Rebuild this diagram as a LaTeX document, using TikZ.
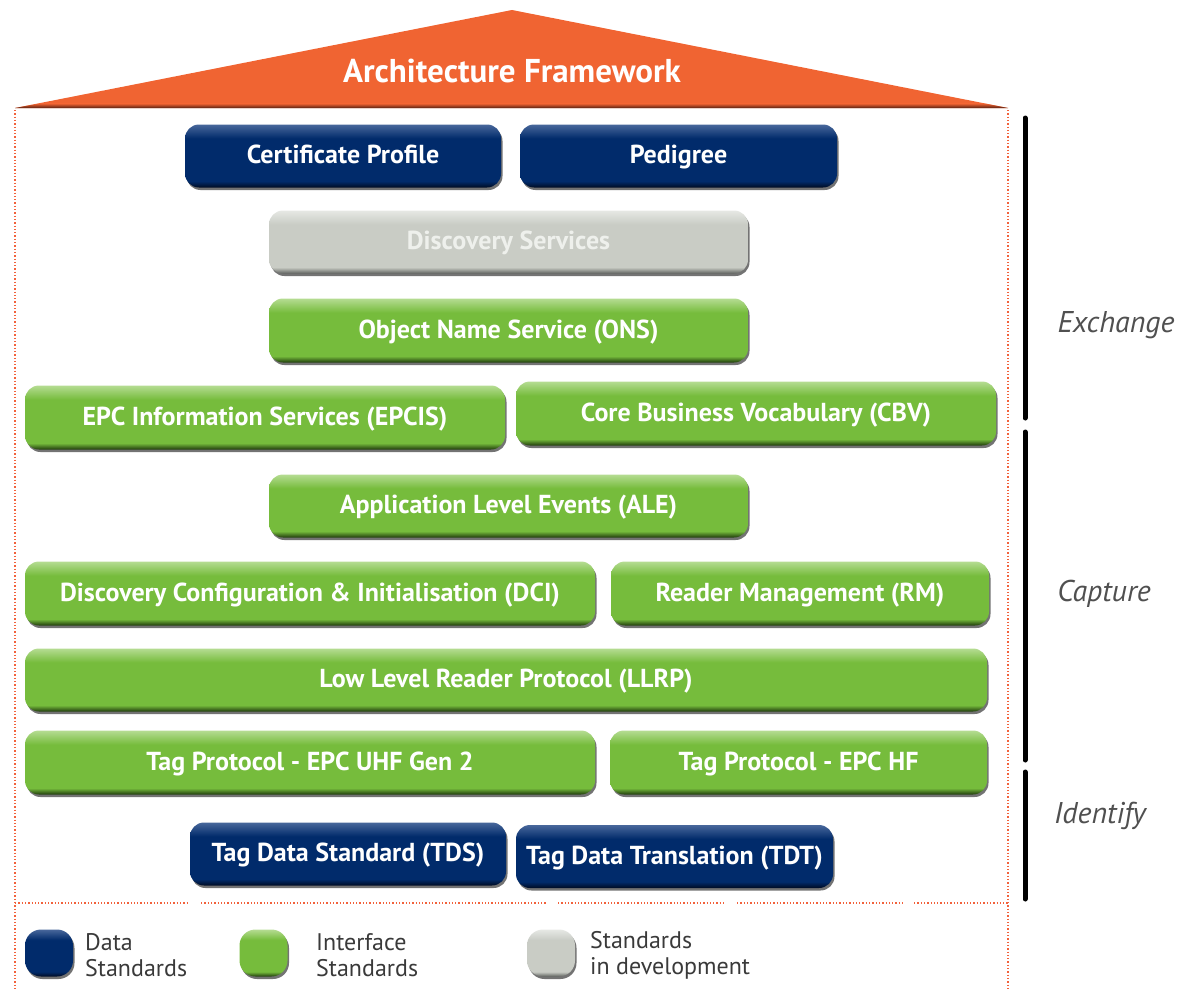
\documentclass[tikz,border=0pt]{standalone}
\usepackage{fontspec}
\setmainfont{PT Sans}
\newfontface\boxfont{PT Sans Bold}
\newfontface\titlefont{PT Sans Bold}
\newfontface\legfont{PT Sans}
\newfontface\sidefont{PT Sans Italic}
\usetikzlibrary{shadows}
\definecolor{bbase}{HTML}{012B6B}
\definecolor{bdark}{HTML}{000B22}
\definecolor{blight}{HTML}{48679B}
\definecolor{gbase}{HTML}{76BC3C}
\definecolor{gdark}{HTML}{1F3A0C}
\definecolor{glight}{HTML}{B5DC92}
\definecolor{ybase}{HTML}{C9CCC5}
\definecolor{ydark}{HTML}{5E625E}
\definecolor{ylight}{HTML}{E6E8E4}
\definecolor{roof}{HTML}{F06432}
\definecolor{roofdark}{HTML}{5A2010}
\definecolor{dots}{HTML}{F2623C}
\definecolor{ytext}{HTML}{EEF0EC}
\definecolor{legtext}{HTML}{3A3A3A}
\definecolor{sidetext}{HTML}{505050}
\pgfdeclareverticalshading{bshade}{100bp}{color(0bp)=(bdark); color(25bp)=(bdark); color(30bp)=(bbase); color(64bp)=(bbase); color(75bp)=(blight); color(100bp)=(blight)}
\pgfdeclareverticalshading{gshade}{100bp}{color(0bp)=(gdark); color(25bp)=(gdark); color(30bp)=(gbase); color(64bp)=(gbase); color(75bp)=(glight); color(100bp)=(glight)}
\pgfdeclareverticalshading{yshade}{100bp}{color(0bp)=(ydark); color(25bp)=(ydark); color(30bp)=(ybase); color(64bp)=(ybase); color(75bp)=(ylight); color(100bp)=(ylight)}
\tikzset{
  stdbox/.style={rounded corners=14pt, inner sep=0pt, shade,
    font=\boxfont\fontsize{26}{30}\selectfont, text=white,
    text height=20pt, text depth=5pt,
    drop shadow={shadow xshift=1.5pt, shadow yshift=-2.5pt, fill=black, opacity=0.55}},
  databox/.style={stdbox, shading=bshade},
  ifbox/.style={stdbox, shading=gshade},
  devbox/.style={stdbox, shading=yshade, text=ytext},
  bsize/.style 2 args={minimum width=#1pt, minimum height=#2pt},
  pill/.style={rounded corners=16pt, minimum width=48pt, minimum height=47pt, inner sep=0pt, shade,
    drop shadow={shadow xshift=1.5pt, shadow yshift=-2.5pt, fill=black, opacity=0.55}},
  legtxt/.style={anchor=west, align=left, font=\legfont\fontsize{24}{26}\selectfont, text=legtext, inner sep=0pt},
  sidetxt/.style={font=\sidefont\fontsize{30}{33}\selectfont, text=sidetext},
  dotline/.style={draw=dots, line width=1.3pt, dotted},
  bar/.style={line width=5pt, line cap=round, draw=black},
}
\begin{document}
\begin{tikzpicture}[x=1pt,y=-1pt]
\useasboundingbox (0,0) rectangle (1177,990);
% roof
\fill[roof] (15,108) -- (512,10) -- (1008,108) -- cycle;
\shade[top color=roof, bottom color=roofdark] (40,103.5) -- (984,103.5) -- (1008,108) -- (15,108) -- cycle;
\node[font=\titlefont\fontsize{33}{37}\selectfont, text=white] (title) at (512,71) {Architecture Framework};
% dotted frame
\coordinate (tl) at (15,110); \coordinate (bl) at (15,990);
\coordinate (tr) at (1008,110); \coordinate (br) at (1008,990);
\draw[dotline] (tl) -- (bl);
\draw[dotline] (tr) -- (br);
\draw[dotline] (15,903) -- (189,903);
\draw[dotline] (201,903) -- (546,903);
\draw[dotline] (558,903) -- (724,903);
\draw[dotline] (737,903) -- (903,903);
\draw[dotline] (914,903) -- (1008,903);
% boxes
\node[databox, bsize={316}{63}] (cert) at (343,156) {Certificate Profile};
\node[databox, bsize={317}{63}] (ped) at (678.5,156) {Pedigree};
\node[devbox, bsize={479}{63}] (disc) at (508.5,242) {Discovery Services};
\node[ifbox, bsize={479}{64}] (ons) at (508.5,330.5) {Object Name Service (ONS)};
\node[ifbox, bsize={480}{64}] (epcis) at (265,417.5) {EPC Information Services (EPCIS)};
\node[ifbox, bsize={480}{64}] (cbv) at (756,413.5) {Core Business Vocabulary (CBV)};
\node[ifbox, bsize={479}{63}] (ale) at (508.5,506) {Application Level Events (ALE)};
\node[ifbox, bsize={570}{64}] (dci) at (310,593.5) {Discovery Configuration \& Initialisation (DCI)};
\node[ifbox, bsize={378}{64}] (rm) at (800,593.5) {Reader Management (RM)};
\node[ifbox, bsize={962}{63}] (llrp) at (506,680) {Low Level Reader Protocol (LLRP)};
\node[ifbox, bsize={570}{64}] (uhf) at (310,762.5) {Tag Protocol - EPC UHF Gen 2};
\node[ifbox, bsize={377}{64}] (hf) at (798.5,762.5) {Tag Protocol - EPC HF};
\node[databox, bsize={316}{63}] (tds) at (348,854) {Tag Data Standard (TDS)};
\node[databox, bsize={317}{63}] (tdt) at (674.5,856.5) {Tag Data Translation (TDT)};
% side bars
\coordinate (b1a) at (1025,118); \coordinate (b1b) at (1025,418);
\coordinate (b2a) at (1025,432); \coordinate (b2b) at (1025,760);
\coordinate (b3a) at (1025,772); \coordinate (b3b) at (1025,899);
\draw[bar] (b1a) -- (b1b);
\draw[bar] (b2a) -- (b2b);
\draw[bar] (b3a) -- (b3b);
\node[sidetxt] (exch) at (1116,325) {Exchange};
\node[sidetxt] (capt) at (1104,594) {Capture};
\node[sidetxt] (ident) at (1100,816) {Identify};
% legend
\node[pill, shading=bshade] (l1) at (49,953) {};
\node[legtxt] (l1t) at (85,955) {Data\\Standards};
\node[pill, shading=gshade] (l2) at (263.5,953) {};
\node[legtxt] (l2t) at (316,955) {Interface\\Standards};
\node[pill, shading=yshade] (l3) at (551,953) {};
\node[legtxt] (l3t) at (590,955) {Standards\\in development};
\end{tikzpicture}
\end{document}
